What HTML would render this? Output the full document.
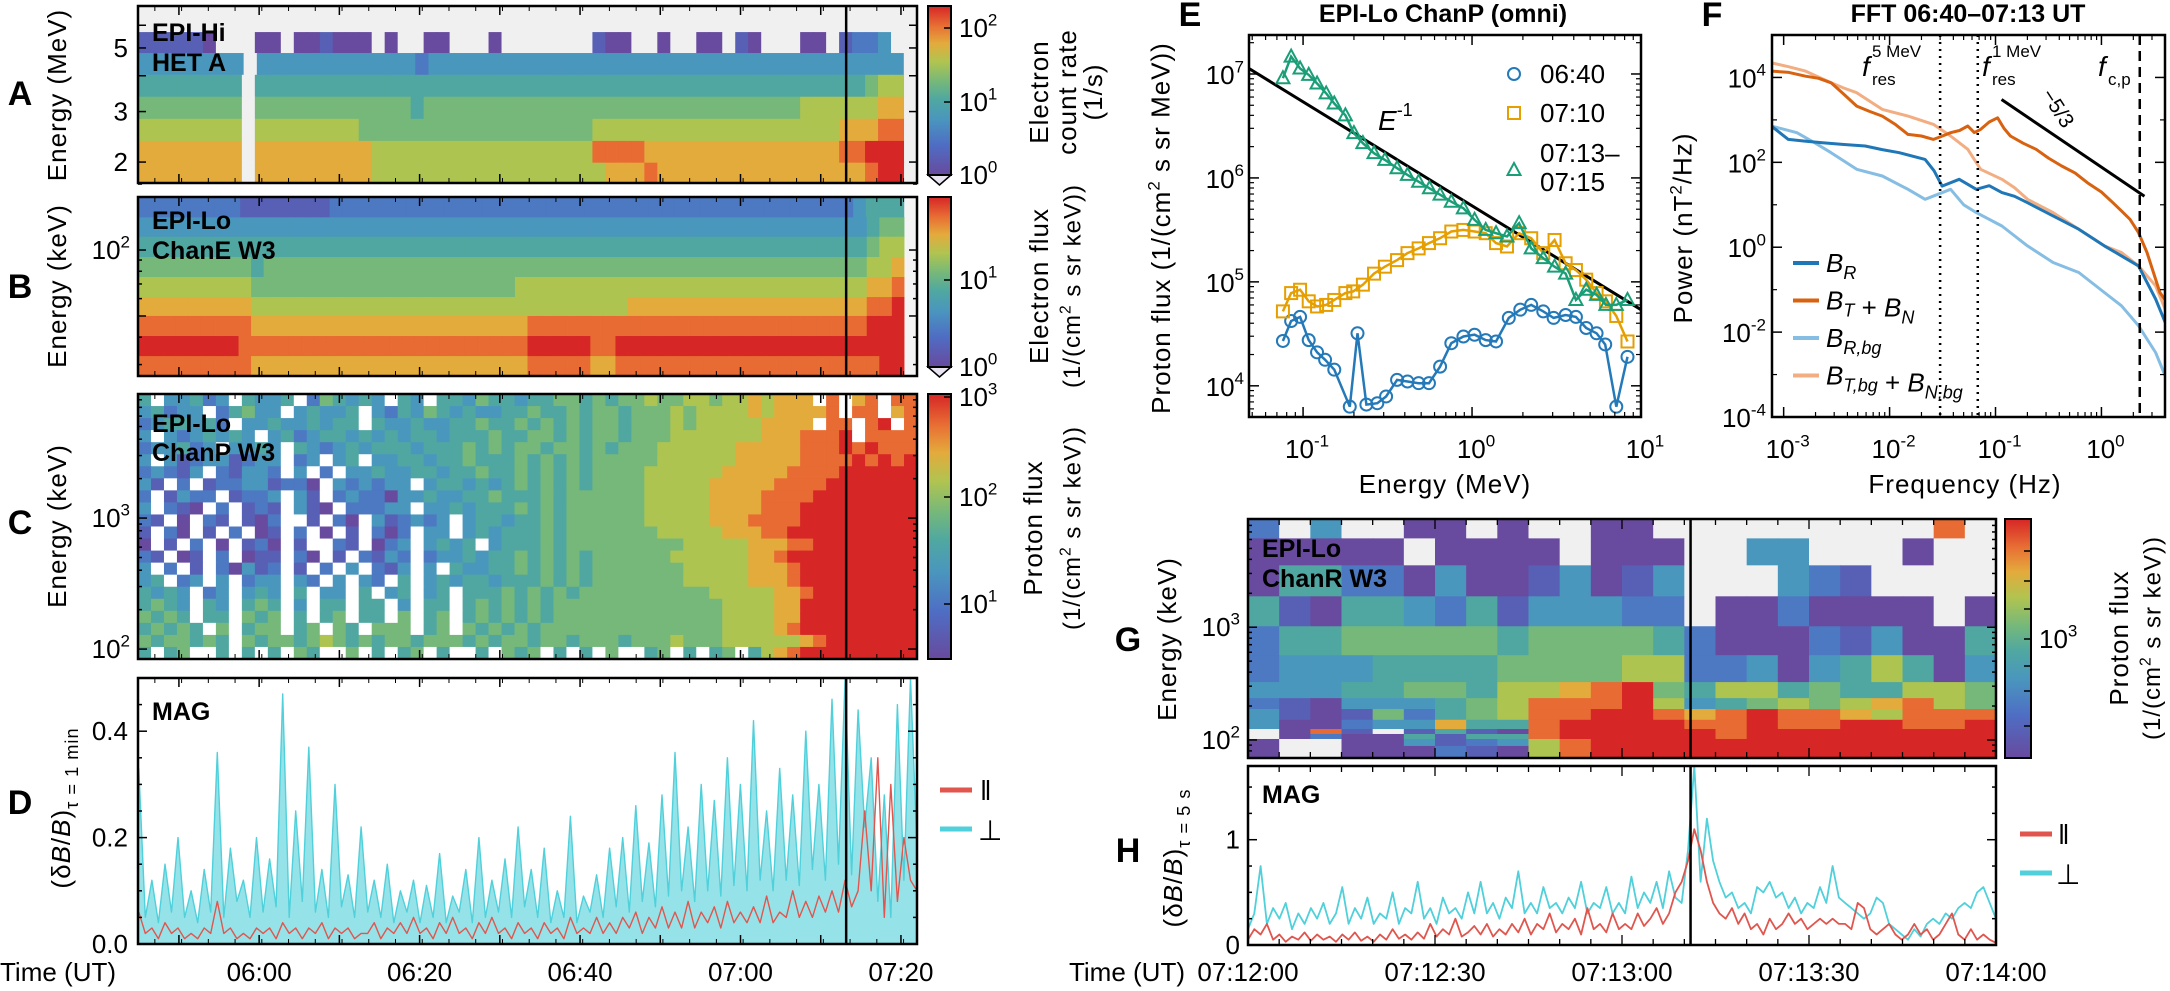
<!DOCTYPE html>
<html><head><meta charset="utf-8">
<style>
body{margin:0;background:#fff;}
svg{display:block;font-family:"Liberation Sans",sans-serif;}
</style></head>
<body>
<svg id="fig" width="2170" height="991" viewBox="0 0 2170 991"></svg>
<script>
// ---------- DATA ----------
const aEdgesMeV = [5.68, 4.80, 4.03, 3.38, 2.83, 2.37, 1.99, 1.69];
const aRows = [
"111110...00.001000.0..00...0.......100..0..00.10...00.1223..",
"33333333.3333333333332333333333333333333333333333333333333.",
"44444444.44444444444444444444444444444444444444444444444566.",
"55555555.55555555555545555555555555555555555555555566666677.",
"66666666.66666666555555555555555555666666666666666666677788.",
"77777777.77777777766666666666666666888877777777777777788999.",
"77777777.77777777766666666666666666677787777777777777777899."
];
const bEdgesKeV = [175, 141, 115, 92.9, 75.3, 61.0, 50.0, 40.5, 32.8, 26.6];
const bRows = [
"222222221111111222222222222222222222222222222222222222223444.",
"3333333333333333333333333333333333333333333333333333333333455.",
"4444444444444444444444444444444444444444444444444444444444566.",
"5555555554555555555555555555555555555555555555555555555555667.",
"6666666665555555555555555555556666666666666666666666666666778.",
"7777777776666666666666666666666666666667777777777777777777889.",
"8888888887777777777777777777777888888888888888888888888888999.",
"9999999988888888888888888888888999998899999999999999999999999.",
"8888888887777777777777777777777888887788888888888888888888899."
];
const cEnergyMinKeV = 84, cEnergyMaxKeV = 8850;
const cRows = [
"4.33423.4334.254343.43.44354434455454556556656676777.8.78.8",
"34233.24533.34334.324354343344544545545556566667677778.88.78",
"2344342.334334344.4334334454454545455455565666667777.88.89.88",
"3.3234343.342344343434434445445545455455566666667778889.888",
"233423.3343.43234344434445454554554545556666667777788898988",
"3.312331233.23.34.334434454445454545555566666677777888898989",
"23213.21332.3.2.334334434454454545455556666667777788889999999",
"31.2.122331220.323233.3443434545454555566666777778888999999",
"2.1322.1223.31.232203343344544454555555666667777888899999999",
"3.210.2.121.310.22233.33434445454555555666667777888999999999",
"21.0.21.102..1.20.312323.34434454555555666667778888999999999",
"1.20.1.2.01.2.0.1.202.33.34344454555555566666777889999999999",
"0.1.2.0.120.1..21.023.3434.34445455555555566666777889999999999",
"21.01.2.011.20.1.2132.23343445454545555556666667789999999999",
"3.2.1.20312.1.2.3.213.3.43344545454555555566666777899999999999",
"34.23.3.233.32.3.32.4.34344344454545555555666667778999999999",
"4343.23.343.4.33.4.34.34.444545454555555555566666778999999999",
"4543.43.454.3.44.44.3.44.45454545555555555555666677999999999",
"5454.44.545.4.45.44.5.45.45454545555555555555666677999999999",
"45454.5.455.45.54.555.45.54545455555555555555666678999999999",
"5455454.545545654545545554545545545554555655566666678999999999",
"4.45..4.4.4.54..5.4.45.4..4.545.4.4.5..45.4.45.4678999999999"
];
const dStartMin = 345, dEndMin = 442;
const dPerp = [0.33,0.05,0.12,0.04,0.15,0.06,0.2,0.05,0.1,0.04,0.14,0.06,0.36,0.05,0.18,0.08,0.12,0.05,0.2,
0.06,0.16,0.07,0.47,0.05,0.25,0.08,0.37,0.06,0.14,0.05,0.3,0.07,0.13,0.05,0.22,0.06,0.12,0.05,0.15,0.04,0.1,0.06,0.12,0.04,
0.11,0.05,0.17,0.04,0.09,0.06,0.14,0.04,0.2,0.05,0.12,0.06,0.16,0.05,0.22,0.07,0.14,0.05,0.18,0.04,0.1,0.05,0.24,0.04,0.09,
0.06,0.13,0.05,0.18,0.07,0.2,0.06,0.26,0.08,0.19,0.07,0.28,0.09,0.36,0.1,0.22,0.08,0.3,0.1,0.27,0.09,0.35,0.11,0.3,0.1,
0.42,0.12,0.25,0.1,0.33,0.12,0.28,0.11,0.4,0.14,0.3,0.12,0.46,0.15,0.5,0.13,0.44,
0.22,0.35,0.08,0.28,0.05,0.45,0.12,0.5,0.18];
const dPar = [0.06,0.02,0.03,0.01,0.04,0.02,0.03,0.01,0.02,0.01,0.03,0.02,0.08,0.02,0.03,0.01,0.02,0.01,0.03,
0.02,0.03,0.01,0.04,0.02,0.03,0.01,0.03,0.02,0.04,0.01,0.03,0.02,0.03,0.01,0.02,0.02,0.04,0.01,0.03,0.02,0.04,0.02,0.05,0.02,
0.03,0.01,0.04,0.02,0.05,0.02,0.03,0.01,0.04,0.02,0.05,0.02,0.03,0.01,0.04,0.02,0.03,0.01,0.04,0.02,0.03,0.01,0.05,0.02,0.03,
0.02,0.05,0.02,0.04,0.02,0.05,0.03,0.06,0.02,0.05,0.03,0.07,0.03,0.06,0.03,0.08,0.03,0.06,0.04,0.07,0.03,0.08,0.04,0.06,0.04,
0.07,0.04,0.09,0.04,0.06,0.05,0.1,0.05,0.08,0.05,0.09,0.06,0.1,0.06,0.12,0.07,0.1,
0.25,0.1,0.35,0.05,0.3,0.08,0.2,0.12,0.1];
const eventMin = 433.17;
const eBlueE = [0.076,0.085,0.096,0.108,0.121,0.135,0.153,0.189,0.21,0.237,0.275,0.31,0.36,0.415,0.483,0.556,0.647,0.754,0.889,1.035,1.205,1.387,1.65,1.93,2.24,2.64,3.04,3.58,4.12,4.74,5.46,6.14,7.14,8.32];
const eBlueF = [2.7e4,4.2e4,4.6e4,2.75e4,2.1e4,1.78e4,1.43e4,6.3e3,3.2e4,6.6e3,6.8e3,7.9e3,1.14e4,1.1e4,1.06e4,1.06e4,1.53e4,2.57e4,2.98e4,3.1e4,2.75e4,2.67e4,4.5e4,5.4e4,6.0e4,5.2e4,4.5e4,4.8e4,4.6e4,3.6e4,3.2e4,2.5e4,6.3e3,1.9e4];
const eOrangeE = [0.076,0.085,0.096,0.108,0.121,0.137,0.153,0.178,0.198,0.226,0.263,0.305,0.36,0.415,0.483,0.556,0.647,0.754,0.889,1.035,1.205,1.387,1.61,1.9,2.24,2.64,3.08,3.58,4.12,4.74,5.46,6.2,7.14,8.32];
const eOrangeF = [5.2e4,7.8e4,8.4e4,6.5e4,5.8e4,6.0e4,6.7e4,7.8e4,8.1e4,9.4e4,1.2e5,1.4e5,1.62e5,1.89e5,2.1e5,2.36e5,2.63e5,3.05e5,3.16e5,3.05e5,2.94e5,2.36e5,2.19e5,2.94e5,2.63e5,1.89e5,2.53e5,1.51e5,1.3e5,1.05e5,7.8e4,6.5e4,4.7e4,2.67e4];
const eGreenE = [0.076,0.085,0.096,0.108,0.121,0.137,0.153,0.178,0.2,0.226,0.263,0.305,0.36,0.415,0.483,0.56,0.647,0.754,0.889,1.035,1.205,1.387,1.61,1.9,2.24,2.64,3.08,3.58,4.12,4.74,5.46,6.2,7.14,8.32];
const eGreenF = [9.1e6,1.47e7,1.13e7,9.8e6,8.1e6,6.5e6,5.2e6,4.0e6,2.7e6,2.16e6,1.73e6,1.49e6,1.24e6,1.07e6,9.2e5,7.95e5,6.9e5,5.9e5,5.1e5,3.95e5,3.16e5,2.94e5,2.73e5,3.67e5,2.1e5,1.69e5,1.4e5,1.2e5,6.7e4,8.4e4,7.5e4,6.0e4,6.0e4,6.7e4];
const eFitNorm = 5.4e5;
const eFitRange = [0.048, 10];
const fBtnLogF = [-3.117,-2.95,-2.794,-2.67,-2.552,-2.43,-2.31,-2.19,-2.069,-1.95,-1.826,-1.7,-1.585,-1.5,-1.424,-1.34,-1.262,-1.2,-1.141,-1.06,-0.98,-0.92,-0.859,-0.74,-0.617,-0.5,-0.375,-0.25,-0.133,0,0.108,0.19,0.27,0.35,0.43,0.552,0.64];
const fBtnLogP = [4.149,4.12,4.03,3.98,3.875,3.6,3.325,3.2,3.09,2.9,2.659,2.62,2.54,2.62,2.698,2.75,2.855,2.7,2.776,2.95,3.05,2.8,2.62,2.45,2.306,2.1,1.914,1.75,1.52,1.3,1.05,0.85,0.659,0.345,-0.125,-1.066,-1.38];
const fBtbgLogF = [-3.117,-2.95,-2.794,-2.552,-2.43,-2.31,-2.069,-1.826,-1.585,-1.424,-1.262,-1.141,-0.94,-0.82,-0.698,-0.456,-0.214,0.028,0.189,0.35,0.511,0.64];
const fBtbgLogP = [4.345,4.25,4.149,3.875,3.75,3.64,3.247,3.09,2.894,2.62,2.306,1.835,1.6,1.4,1.13,0.816,0.424,0.031,-0.125,-0.44,-0.91,-1.69];
const fBrLogF = [-3.117,-2.956,-2.8,-2.633,-2.43,-2.23,-2.07,-1.908,-1.665,-1.58,-1.504,-1.343,-1.181,-1.06,-0.94,-0.82,-0.698,-0.456,-0.214,0.028,0.189,0.35,0.511,0.64];
const fBrLogP = [2.855,2.54,2.5,2.463,2.42,2.384,2.3,2.227,2.07,1.8,1.44,1.6,1.365,1.45,1.287,1.2,1.05,0.737,0.424,0.031,-0.204,-0.44,-1.22,-2.0];
const fBrbgLogF = [-3.117,-2.875,-2.7,-2.552,-2.31,-2.069,-1.826,-1.665,-1.424,-1.3,-1.181,-0.94,-0.698,-0.456,-0.214,0.028,0.189,0.35,0.511,0.64];
const fBrbgLogP = [2.855,2.698,2.45,2.227,1.835,1.678,1.365,1.13,1.365,1.0,0.816,0.5,0.031,-0.36,-0.596,-1.066,-1.38,-1.85,-2.48,-3.26];
const fSlopeLine = [[-0.943,3.48],[0.406,1.2]];
const fResonances = [0.03, 0.068];
const fCyclotron = 2.3;
const gEdgesKeV = [9040,6140,3540,1880,1020,565,326,235,188,151,125,113,102,88.5,69];
const gRows = [
"2.3..00.0..00.........8.",
"00000.0000.000..33...0..",
"04422030013013...321....",
"41044324133322.0020000.0",
"244555554555542000213004",
"233344445555662230346403",
"333445546678954664544665",
"210333456888963456567865",
"310152456889987898876888",
"300233744899998898899889",
".081.1410899999899999999",
".02004144899999899999999",
"0..003123689999999999999",
"0..000210689999999999999"
];
const gDurationS = 120;
const hEventS = 71;
const hPerp = [0.15,0.3,0.75,0.2,0.35,0.25,0.4,0.15,0.3,0.2,0.35,0.25,0.4,0.2,0.3,
0.55,0.2,0.35,0.25,0.45,0.2,0.3,0.25,0.5,0.2,0.35,0.3,0.6,0.25,0.35,
0.2,0.45,0.3,0.35,0.25,0.5,0.3,0.6,0.3,0.4,0.25,0.45,0.35,0.7,0.3,
0.4,0.3,0.55,0.35,0.4,0.3,0.45,0.35,0.6,0.3,0.4,0.35,0.55,0.3,0.4,
0.3,0.65,0.35,0.5,0.4,0.6,0.35,0.7,0.45,0.4,0.9,1.7,0.6,1.2,0.8,
0.6,0.45,0.5,0.35,0.4,0.3,0.55,0.5,0.6,0.45,0.5,0.35,0.45,0.3,0.4,
0.35,0.55,0.4,0.75,0.45,0.4,0.35,0.3,0.25,0.3,0.45,0.4,0.2,0.15,0.1,
0.05,0.15,0.08,0.2,0.25,0.2,0.3,0.25,0.35,0.4,0.35,0.5,0.55,0.4,0.25];
const hPar = [0.05,0.15,0.1,0.2,0.05,0.1,0.03,0.08,0.05,0.12,0.04,0.1,0.05,0.08,0.03,
0.1,0.05,0.12,0.04,0.08,0.03,0.1,0.05,0.15,0.06,0.1,0.05,0.12,0.06,0.2,
0.08,0.15,0.1,0.25,0.08,0.12,0.18,0.1,0.2,0.08,0.15,0.1,0.2,0.12,0.25,
0.1,0.2,0.15,0.3,0.12,0.2,0.15,0.25,0.1,0.35,0.15,0.2,0.12,0.3,0.15,
0.2,0.15,0.3,0.18,0.25,0.35,0.2,0.3,0.5,0.6,0.8,1.1,0.9,0.6,0.4,
0.3,0.25,0.35,0.2,0.3,0.15,0.2,0.1,0.25,0.15,0.2,0.3,0.2,0.25,0.15,
0.2,0.25,0.2,0.25,0.2,0.2,0.15,0.4,0.35,0.15,0.1,0.15,0.2,0.1,0.05,
0.1,0.2,0.1,0.15,0.05,0.1,0.2,0.3,0.1,0.05,0.15,0.05,0.1,0.05,0.02];
const timeTickLabels = ["06:00","06:20","06:40","07:00","07:20"];
const timeTickMins = [360,380,400,420,440];
const hTickLabels = ["07:12:00","07:12:30","07:13:00","07:13:30","07:14:00"];
const hTickSecs = [0,30,60,90,120];

// ---------- RENDER ----------
const NS='http://www.w3.org/2000/svg';
const svg=document.getElementById('fig');
function mk(tag,p){const e=document.createElementNS(NS,tag);(p||svg).appendChild(e);return e;}
function at(e,o){for(const k in o)e.setAttribute(k,o[k]);return e;}
const stops=[[0,[104,74,158]],[0.18,[78,110,196]],[0.33,[74,150,190]],[0.45,[80,168,160]],[0.56,[120,185,120]],[0.67,[176,196,80]],[0.78,[228,170,60]],[0.88,[232,112,52]],[1,[214,38,38]]];
function cmap(v){v=Math.max(0,Math.min(1,v));for(let i=1;i<stops.length;i++){if(v<=stops[i][0]){const a=stops[i-1],b=stops[i];const f=(v-a[0])/(b[0]-a[0]);const c=a[1].map((x,j)=>Math.round(x+(b[1][j]-x)*f));return `rgb(${c})`;}}return 'rgb(214,38,38)';}
function txt(p,s,x,y,size,anchor,extra){const t=mk('text',p);at(t,{x:x,y:y,'font-size':size,'text-anchor':anchor||'start'});if(extra)at(t,extra);t.textContent=s;return t;}
function pw(p,x,y,exp,size,anchor){const t=mk('text',p);at(t,{x:x,y:y,'font-size':size,'text-anchor':anchor||'middle'});const a=mk('tspan',t);a.textContent='10';const b=mk('tspan',t);at(b,{dy:-size*0.45,'font-size':Math.round(size*0.65)});b.textContent=exp;return t;}
function line(p,x1,y1,x2,y2,st,w){return at(mk('line',p),{x1:x1,y1:y1,x2:x2,y2:y2,stroke:st||'#000','stroke-width':w||1.5});}

const defs=mk('defs');
const grad=at(mk('linearGradient',defs),{id:'cm',x1:0,y1:1,x2:0,y2:0});
stops.forEach(s=>{at(mk('stop',grad),{offset:s[0],'stop-color':cmap(s[0])});});

const X0=138,X1=917;
function tX(m){return X0+(m-dStartMin+0.1)/(dEndMin-dStartMin+0.1)*(X1-X0);}

function heatRows(g,rows,edgesY,x0,x1,empty,nFixed){
  rows.forEach((r,i)=>{const n=nFixed||r.length;const w=(x1-x0)/n;
    for(let j=0;j<n;j++){const ch=r[j]===undefined?r[r.length-1]:r[j];const rc=mk('rect',g);
      at(rc,{x:(x0+j*w).toFixed(2),y:edgesY[i].toFixed(2),width:(w+0.6).toFixed(2),height:(edgesY[i+1]-edgesY[i]+0.6).toFixed(2),fill:ch==='.'?empty:cmap(+ch/9)});
      
      
    }});
}
function frame(p,x0,y0,x1,y1,name){const r=mk('rect',p);at(r,{x:x0,y:y0,width:x1-x0,height:y1-y0,fill:'none',stroke:'#000','stroke-width':2.5});
  
  }
function timeTicks(p,y0,y1){for(let m=350;m<=440;m+=10){const x=tX(m);line(p,x,y1,x,y1-9);line(p,x,y0,x,y0+9);}
  for(let m=347;m<=442;m+=3.333){const x=tX(m);line(p,x,y1,x,y1-5,'#000',1);line(p,x,y0,x,y0+5,'#000',1);}}
function yTicks(p,ys,x0,x1,len){ys.forEach(y=>{line(p,x0,y,x0+len,y);line(p,x1,y,x1-len,y);});}
function eventLine(p,y0,y1){const x=tX(eventMin);const l=line(p,x,y0,x,y1,'#000',2.5);
  
  }
function panelLetter(s,x,y){const t=txt(svg,s,x,y,34,'middle',{'font-weight':'bold'});
  
  }
function rotLabel(p,x,y,parts,size,name){const t=mk('text',p);at(t,{x:x,y:y,'font-size':size,'text-anchor':'middle',transform:`rotate(-90 ${x} ${y})`,'letter-spacing':'1'});
  parts.forEach(pt=>{const s=mk('tspan',t);if(pt.sup)at(s,{dy:-size*0.4,'font-size':size*0.65});if(pt.sub)at(s,{dy:size*0.3,'font-size':size*0.7});if(pt.reset)at(s,{dy:pt.reset});if(pt.it)at(s,{'font-style':'italic'});s.textContent=pt.t;});
  
  return t;}
function boldLabel(p,s,x,y,name){const t=txt(p,s,x,y,25,'start',{'font-weight':'bold'});
  
  }
function colorbar(p,x0,y0,x1,y1,ticks,ext,name){const g=mk('g',p);
  
  
  at(mk('rect',g),{x:x0,y:y0,width:x1-x0,height:y1-y0,fill:'url(#cm)'});
  if(ext){const tr=mk('path',g);at(tr,{d:`M${x0},${y1} L${x1},${y1} L${(x0+x1)/2},${y1+10} Z`,fill:'#e9e3f2',stroke:'#000','stroke-width':1.5});}
  at(mk('rect',g),{x:x0,y:y0,width:x1-x0,height:y1-y0,fill:'none',stroke:'#000','stroke-width':2});
  ticks.forEach(tk=>{line(g,x1,tk.y,x1-7,tk.y,'#000',1.5);if(tk.e!==undefined){pw(g,x1+8,tk.y+9,tk.e,26,'start');}});
  return g;}

// ===== Panel A =====
const gA=mk('g');
function aY(E){return 183-(Math.log10(E)-0.228)/0.6173*177;}
at(mk('rect',gA),{x:X0,y:6,width:X1-X0,height:177,fill:'#f0f0f0'});
heatRows(gA,aRows,aEdgesMeV.map(aY),X0,X1,'#f0f0f0');
timeTicks(gA,6,183);
yTicks(gA,[2,3,4,5,6,7].map(aY),X0,X1,8);
[['5',5],['3',3],['2',2]].forEach(a=>{const t=txt(gA,a[0],128,aY(a[1])+9,26,'end');});
eventLine(gA,6,183);
frame(gA,X0,6,X1,183,'panel-a-frame');
boldLabel(gA,'EPI-Hi',152,41,'instrument-label-epihi');
boldLabel(gA,'HET A',152,71,'instrument-label-het-a');
rotLabel(gA,66,95,[{t:'Energy (MeV)'}],26,'a-y-axis-title');
colorbar(gA,928,6,951,175,[{y:28,e:'2'},{y:102,e:'1'},{y:175,e:'0'}],true,'colorbar-a');
rotLabel(gA,1048,92,[{t:'Electron'}],26,'colorbar-a-title');
rotLabel(gA,1076,92,[{t:'count rate'}],26,'colorbar-a-title-2');
rotLabel(gA,1102,92,[{t:'(1/s)'}],26,'colorbar-a-title-3');
panelLetter('A',20,105);

// ===== Panel B =====
const gB=mk('g');
function bY(E){return 376-(Math.log10(E)-1.425)/0.817*179;}
at(mk('rect',gB),{x:X0,y:197,width:X1-X0,height:179,fill:'#fff'});
heatRows(gB,bRows,bEdgesKeV.map(bY),X0,X1,'#f4f4f4');
timeTicks(gB,197,376);
yTicks(gB,[50,100].map(bY),X0,X1,8);
yTicks(gB,[30,40,60,70,80,90,200].map(bY),X0,X1,4);
{const t=pw(gB,130,bY(100)+9,'2',26,'end');}
eventLine(gB,197,376);
frame(gB,X0,197,X1,376,'panel-b-frame');
boldLabel(gB,'EPI-Lo',152,229,'instrument-label-epilo-e');
boldLabel(gB,'ChanE W3',152,259,'instrument-label-chane');
rotLabel(gB,66,286,[{t:'Energy (keV)'}],26,'b-y-axis-title');
colorbar(gB,928,197,951,367,[{y:280,e:'1'},{y:367,e:'0'}],true,'colorbar-b');
rotLabel(gB,1048,286,[{t:'Electron flux'}],26,'colorbar-b-title');
rotLabel(gB,1080,286,[{t:'(1/(cm'},{t:'2',sup:1},{t:' s sr keV))',reset:10}],24,'colorbar-b-units');
panelLetter('B',20,298);

// ===== Panel C =====
const gC=mk('g');
const cL0=Math.log10(cEnergyMinKeV),cL1=Math.log10(cEnergyMaxKeV);
function cY(E){return 659-(Math.log10(E)-cL0)/(cL1-cL0)*265;}
at(mk('rect',gC),{x:X0,y:394,width:X1-X0,height:265,fill:'#fff'});
const cEdgesY=[];for(let i=0;i<=cRows.length;i++)cEdgesY.push(394+i*265/cRows.length);
heatRows(gC,cRows,cEdgesY,X0,X1,'#ffffff',60);
timeTicks(gC,394,659);
yTicks(gC,[100,1000].map(cY),X0,X1,9);
yTicks(gC,[200,300,400,500,600,700,800,900,2000,3000,4000,5000,6000,7000,8000].map(cY),X0,X1,4);
[['3',1000],['2',100]].forEach(a=>{const t=pw(gC,130,cY(a[1])+9,a[0],26,'end');});
eventLine(gC,394,659);
frame(gC,X0,394,X1,659,'panel-c-frame');
boldLabel(gC,'EPI-Lo',152,432,'instrument-label-epilo-p');
boldLabel(gC,'ChanP W3',152,461,'instrument-label-chanp');
rotLabel(gC,66,526,[{t:'Energy (keV)'}],26,'c-y-axis-title');
colorbar(gC,928,394,951,659,[{y:397,e:'3'},{y:497,e:'2'},{y:604,e:'1'}],false,'colorbar-c');
rotLabel(gC,1042,528,[{t:'Proton flux'}],26,'colorbar-c-title');
rotLabel(gC,1080,528,[{t:'(1/(cm'},{t:'2',sup:1},{t:' s sr keV))',reset:10}],24,'colorbar-c-units');
panelLetter('C',20,534);

// ===== Panel D =====
const gD=mk('g');
function dY(v){return 944-v/0.5*266;}
function series(g,arr,t0,t1,xf,yf,color,w,name,fillOp,base){const n=arr.length;const xy=arr.map((v,i)=>[xf(t0+i*(t1-t0)/(n-1)),yf(v)]);
  const pts=xy.map(p=>p[0].toFixed(1)+','+p[1].toFixed(1)).join(' ');
  if(fillOp){const pg=mk('polygon',g);at(pg,{points:xy[0][0].toFixed(1)+','+base+' '+pts+' '+xy[n-1][0].toFixed(1)+','+base,fill:color,'fill-opacity':fillOp,stroke:'none'});
    
    }
  const pl=mk('polyline',g);at(pl,{points:pts,fill:'none',stroke:color,'stroke-width':w,'stroke-linejoin':'round'});
  
  }
series(gD,dPerp,dStartMin,dEndMin,tX,dY,'#4fd0da',1.4,'d-perp-series',0.6,944);
series(gD,dPar,dStartMin,dEndMin,tX,dY,'#e0564e',1.4,'d-par-series');
timeTicks(gD,678,944);
yTicks(gD,[0,0.2,0.4].map(dY),X0,X1,9);
yTicks(gD,[0.05,0.1,0.15,0.25,0.3,0.35,0.45].map(dY),X0,X1,4);
[['0.0',0],['0.2',0.2],['0.4',0.4]].forEach(a=>{const t=txt(gD,a[0],128,dY(a[1])+9,26,'end');});
eventLine(gD,678,944);
frame(gD,X0,678,X1,944,'panel-d-frame');
boldLabel(gD,'MAG',152,720,'instrument-label-mag-d');
rotLabel(gD,70,808,[{t:'(δ'},{t:'B',it:1},{t:'/'},{t:'B',it:1},{t:')'},{t:'τ = 1 min',sub:1}],26,'d-y-axis-title');
timeTickMins.forEach((m,i)=>{const t=txt(gD,timeTickLabels[i],tX(m),981,26,'middle');});
{const t=txt(gD,'Time (UT)',0,981,26,'start');}
{const lg=mk('g',gD);
 line(lg,940,790,972,790,'#e0564e',5);txt(lg,'‖',980,800,28);line(lg,940,829,972,829,'#4fd0da',5);txt(lg,'⊥',978,840,28);}
panelLetter('D',20,814);

// ===== Panel E =====
const gE=mk('g');
const EX0=1249,EX1=1641,EY0=35,EY1=417;
function eX(E){return EX0+(Math.log10(E)+1.32)/2.32*(EX1-EX0);}
function eY(F){return EY1-(Math.log10(F)-3.70)/3.675*(EY1-EY0);}
const clipE=at(mk('clipPath',defs),{id:'clipE'});at(mk('rect',clipE),{x:EX0,y:EY0,width:EX1-EX0,height:EY1-EY0});
const eIn=at(mk('g',gE),{'clip-path':'url(#clipE)'});
{const l=line(eIn,eX(eFitRange[0]),eY(eFitNorm/eFitRange[0]),eX(eFitRange[1]),eY(eFitNorm/eFitRange[1]),'#000',3);}
function eSeries(Es,Fs,color,shape,name){const g=mk('g',eIn);
  at(mk('polyline',g),{points:Es.map((e,i)=>eX(e).toFixed(1)+','+eY(Fs[i]).toFixed(1)).join(' '),fill:'none',stroke:color,'stroke-width':2.5});
  Es.forEach((e,i)=>{const x=eX(e),y=eY(Fs[i]);let m;
    if(shape==='o')m=at(mk('circle',g),{cx:x,cy:y,r:6});
    else if(shape==='s')m=at(mk('rect',g),{x:x-6,y:y-6,width:12,height:12});
    else m=at(mk('path',g),{d:`M${x},${y-7} L${x+6.5},${y+5} L${x-6.5},${y+5} Z`});
    at(m,{fill:'none',stroke:color,'stroke-width':2});
    
    });}
eSeries(eBlueE,eBlueF,'#2479b8','o','e-series-0640');
eSeries(eOrangeE,eOrangeF,'#e69f00','s','e-series-0710');
eSeries(eGreenE,eGreenF,'#1a9e77','t','e-series-0713-0715');
[0.1,1,10].forEach(v=>{line(gE,eX(v),EY1,eX(v),EY1-10);line(gE,eX(v),EY0,eX(v),EY0+10);});
for(let d=-2;d<=0;d++)for(let k=2;k<=9;k++){const v=k*Math.pow(10,d);if(v<0.048||v>10)continue;line(gE,eX(v),EY1,eX(v),EY1-5,'#000',1.2);line(gE,eX(v),EY0,eX(v),EY0+5,'#000',1.2);}
[1e4,1e5,1e6,1e7].forEach(v=>{line(gE,EX0,eY(v),EX0+10,eY(v));line(gE,EX1,eY(v),EX1-10,eY(v));});
for(let d=3;d<=7;d++)for(let k=2;k<=9;k++){const v=k*Math.pow(10,d);if(v<5.1e3||v>2.3e7)continue;line(gE,EX0,eY(v),EX0+5,eY(v),'#000',1.2);line(gE,EX1,eY(v),EX1-5,eY(v),'#000',1.2);}
[['-1',0.1],['0',1],['1',10]].forEach(a=>{const t=pw(gE,eX(a[1])+4,458,a[0],26,'middle');});
[['4',1e4],['5',1e5],['6',1e6],['7',1e7]].forEach(a=>{const t=pw(gE,1244,eY(a[1])+10,a[0],26,'end');});
frame(gE,EX0,EY0,EX1,EY1,'panel-e-frame');
{const t=txt(gE,'Energy (MeV)',1445,493,26,'middle',{'letter-spacing':'1'});}
rotLabel(gE,1170,228,[{t:'Proton flux (1/(cm'},{t:'2',sup:1},{t:' s sr MeV))',reset:10}],26,'e-y-axis-title');
{const t=txt(gE,'EPI-Lo ChanP (omni)',1443,22,25,'middle',{'font-weight':'bold'});}
{const t=mk('text',gE);at(t,{x:1378,y:130,'font-size':28});const a=mk('tspan',t);at(a,{'font-style':'italic'});a.textContent='E';const b=mk('tspan',t);at(b,{dy:-14,'font-size':18});b.textContent='-1';}
{const lg=mk('g',gE);
 at(mk('circle',lg),{cx:1514,cy:74,r:6,fill:'none',stroke:'#2479b8','stroke-width':2});txt(lg,'06:40',1540,83,26);
 at(mk('rect',lg),{x:1508,y:107,width:12,height:12,fill:'none',stroke:'#e69f00','stroke-width':2});txt(lg,'07:10',1540,122,26);
 at(mk('path',lg),{d:'M1514,163 L1520.5,175 L1507.5,175 Z',fill:'none',stroke:'#1a9e77','stroke-width':2});txt(lg,'07:13–',1540,162,26);txt(lg,'07:15',1540,191,26);}
panelLetter('E',1190,26);

// ===== Panel F =====
const gF=mk('g');
const FX0=1772,FX1=2165,FY0=35,FY1=417;
function fX(lf){return FX0+(lf+3.11)/3.71*(FX1-FX0);}
function fY(lp){return FY1-(lp+4)/9.0*(FY1-FY0);}
const clipF=at(mk('clipPath',defs),{id:'clipF'});at(mk('rect',clipF),{x:FX0,y:FY0,width:FX1-FX0,height:FY1-FY0});
const fIn=at(mk('g',gF),{'clip-path':'url(#clipF)'});
function fSeries(lf,lp,color,name){const pl=mk('polyline',fIn);at(pl,{points:lf.map((f,i)=>fX(f).toFixed(1)+','+fY(lp[i]).toFixed(1)).join(' '),fill:'none',stroke:color,'stroke-width':3,'stroke-linejoin':'round'});
  
  }
fSeries(fBrbgLogF,fBrbgLogP,'#86bde3','f-series-br-bg');
fSeries(fBtbgLogF,fBtbgLogP,'#f2ae82','f-series-bt-bn-bg');
fSeries(fBrLogF,fBrLogP,'#1f77b8','f-series-br');
fSeries(fBtnLogF,fBtnLogP,'#d8620f','f-series-bt-bn');
{const l=line(fIn,fX(fSlopeLine[0][0]),fY(fSlopeLine[0][1]),fX(fSlopeLine[1][0]),fY(fSlopeLine[1][1]),'#000',3);}
fResonances.forEach(f=>{const l=line(fIn,fX(Math.log10(f)),FY0,fX(Math.log10(f)),FY1,'#000',2.5);at(l,{'stroke-dasharray':'2 5'});});
{const l=line(fIn,fX(Math.log10(fCyclotron)),FY0,fX(Math.log10(fCyclotron)),FY1,'#000',2.5);at(l,{'stroke-dasharray':'10 6'});}
for(let d=-3;d<=0;d++){line(gF,fX(d),FY1,fX(d),FY1-10);line(gF,fX(d),FY0,fX(d),FY0+10);
  for(let k=2;k<=9;k++){const lf=d+Math.log10(k);if(lf>0.6)continue;line(gF,fX(lf),FY1,fX(lf),FY1-5,'#000',1.2);line(gF,fX(lf),FY0,fX(lf),FY0+5,'#000',1.2);}}
for(let d=-4;d<=4;d+=2){line(gF,FX0,fY(d),FX0+10,fY(d));line(gF,FX1,fY(d),FX1-10,fY(d));}
for(let d=-3;d<=5;d+=2){line(gF,FX0,fY(d),FX0+5,fY(d),'#000',1.2);line(gF,FX1,fY(d),FX1-5,fY(d),'#000',1.2);}
[['-3',-3],['-2',-2],['-1',-1],['0',0]].forEach(a=>{const t=pw(gF,fX(a[1])+4,458,a[0],26,'middle');});
[['4',4],['2',2],['0',0],['-2',-2],['-4',-4]].forEach(a=>{const t=pw(gF,1766,fY(a[1])+10,a[0],26,'end');});
frame(gF,FX0,FY0,FX1,FY1,'panel-f-frame');
{const t=txt(gF,'Frequency (Hz)',1965,493,26,'middle',{'letter-spacing':'1'});}
rotLabel(gF,1692,228,[{t:'Power (nT'},{t:'2',sup:1},{t:'/Hz)',reset:10}],26,'f-y-axis-title');
{const t=txt(gF,'FFT 06:40–07:13 UT',1968,22,25,'middle',{'font-weight':'bold'});}
function fAnn(x,sup,sub,name){const g=mk('g',gF);
  txt(g,'f',x,76,28,'start',{'font-style':'italic'});if(sup)txt(g,sup,x+10,57,17);txt(g,sub,x+10,85,17);}
fAnn(1862,'5 MeV','res','f-res-5mev-label');
fAnn(1982,'1 MeV','res','f-res-1mev-label');
fAnn(2098,null,'c,p','f-cyclotron-label');
{const t=txt(gF,'−5/3',2052,112,21,'middle',{transform:'rotate(57 2052 112)'});}
{const lg=mk('g',gF);
 const ent=[['#1f77b8',[['B',1],['R',2]]],['#d8620f',[['B',1],['T',2],[' + ',0],['B',1],['N',2]]],['#86bde3',[['B',1],['R,bg',2]]],['#f2ae82',[['B',1],['T,bg',2],[' + ',0],['B',1],['N,bg',2]]]];
 ent.forEach((e,i)=>{const y=263+i*37.5;line(lg,1793,y,1819,y,e[0],4);const t=mk('text',lg);at(t,{x:1826,y:y+9,'font-size':26});
  e[1].forEach(p=>{const s=mk('tspan',t);if(p[1]===1)at(s,{'font-style':'italic'});if(p[1]===2)at(s,{'font-style':'italic','font-size':18,dy:7});s.textContent=p[0];
   if(p[1]===2){const r=mk('tspan',t);at(r,{dy:-7});r.textContent='';}});});}
panelLetter('F',1712,26);

// ===== Panel G =====
const gG=mk('g');
const GX0=1248,GX1=1996,GY0=519,GY1=758;
function gX(s){return GX0+s/gDurationS*(GX1-GX0);}
function gY(E){return GY1-(Math.log10(E)-1.84)/2.12*(GY1-GY0);}
at(mk('rect',gG),{x:GX0,y:GY0,width:GX1-GX0,height:GY1-GY0,fill:'#f0f0f0'});
heatRows(gG,gRows,gEdgesKeV.map(gY),GX0,GX1,'#f0f0f0');
function hTicks(p,y0,y1){for(let s=0;s<=120;s+=5){const L=(s%30===0)?10:6;line(p,gX(s),y1,gX(s),y1-L,'#000',1.3);line(p,gX(s),y0,gX(s),y0+L,'#000',1.3);}}
hTicks(gG,GY0,GY1);
yTicks(gG,[100,1000].map(gY),GX0,GX1,9);
yTicks(gG,[80,90,200,300,400,500,600,700,800,900,2000,3000,4000,5000,6000,7000,8000].map(gY),GX0,GX1,4);
[['3',1000],['2',100]].forEach(a=>{const t=pw(gG,1240,gY(a[1])+9,a[0],26,'end');});
{const l=line(gG,gX(hEventS),GY0,gX(hEventS),GY1,'#000',2.5);}
frame(gG,GX0,GY0,GX1,GY1,'panel-g-frame');
boldLabel(gG,'EPI-Lo',1262,557,'instrument-label-epilo-r');
boldLabel(gG,'ChanR W3',1262,587,'instrument-label-chanr');
rotLabel(gG,1176,639,[{t:'Energy (keV)'}],26,'g-y-axis-title');
colorbar(gG,2005,GY0,2031,GY1,[{y:639,e:'3'},{y:551},{y:581},{y:609},{y:666},{y:691},{y:726}],false,'colorbar-g');
rotLabel(gG,2128,638,[{t:'Proton flux'}],26,'colorbar-g-title');
rotLabel(gG,2160,638,[{t:'(1/(cm'},{t:'2',sup:1},{t:' s sr keV))',reset:10}],24,'colorbar-g-units');
panelLetter('G',1128,651);

// ===== Panel H =====
const gH=mk('g');
const HY0=766,HY1=945;
function hY(v){return HY1-v/1.7*(HY1-HY0);}
const clipH=at(mk('clipPath',defs),{id:'clipH'});at(mk('rect',clipH),{x:GX0,y:HY0,width:GX1-GX0,height:HY1-HY0});
const hIn=at(mk('g',gH),{'clip-path':'url(#clipH)'});
series(hIn,hPerp,0,gDurationS,gX,hY,'#4fd0da',1.8,'h-perp-series');
series(hIn,hPar,0,gDurationS,gX,hY,'#e0564e',1.8,'h-par-series');
hTicks(gH,HY0,HY1);
yTicks(gH,[0,1].map(hY),GX0,GX1,9);
yTicks(gH,[0.25,0.5,0.75,1.25,1.5].map(hY),GX0,GX1,4);
[['0',0],['1',1]].forEach(a=>{const t=txt(gH,a[0],1240,hY(a[1])+9,26,'end');});
{const l=line(gH,gX(hEventS),HY0,gX(hEventS),HY1,'#000',2.5);}
frame(gH,GX0,HY0,GX1,HY1,'panel-h-frame');
boldLabel(gH,'MAG',1262,803,'instrument-label-mag-h');
rotLabel(gH,1182,858,[{t:'(δ'},{t:'B',it:1},{t:'/'},{t:'B',it:1},{t:')'},{t:'τ = 5 s',sub:1}],26,'h-y-axis-title');
hTickSecs.forEach((s,i)=>{const t=txt(gH,hTickLabels[i],gX(s),981,26,'middle');});
{const t=txt(gH,'Time (UT)',1185,981,26,'end');}
{const lg=mk('g',gH);
 line(lg,2020,834,2052,834,'#e0564e',5);txt(lg,'‖',2058,844,28);line(lg,2020,873,2052,873,'#4fd0da',5);txt(lg,'⊥',2056,884,28);}
panelLetter('H',1128,862);
</script>
</body></html>
